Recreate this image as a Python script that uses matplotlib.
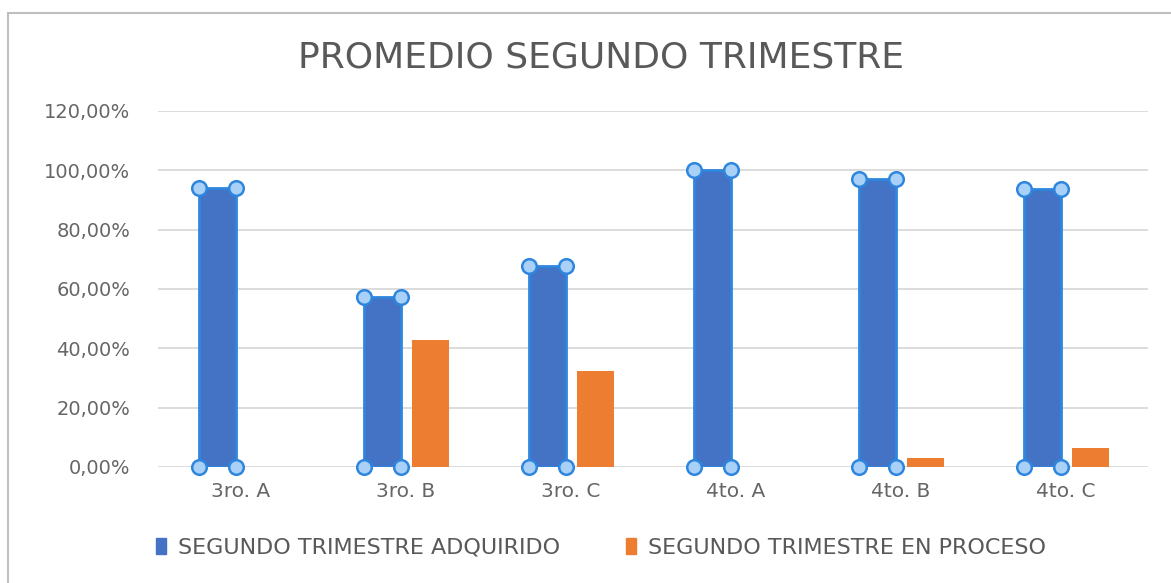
import matplotlib
matplotlib.use("Agg")
import matplotlib.pyplot as plt
import matplotlib.patches as mpatches
from matplotlib.ticker import FuncFormatter, MultipleLocator
import numpy as np

categories = ["3ro. A", "3ro. B", "3ro. C", "4to. A", "4to. B", "4to. C"]
adquirido = [0.9412, 0.5714, 0.6765, 1.0, 0.9697, 0.9355]
en_proceso = [0.0, 0.4286, 0.3235, 0.0, 0.0303, 0.0645]
series_names = ["SEGUNDO TRIMESTRE ADQUIRIDO", "SEGUNDO TRIMESTRE EN PROCESO"]
title = "PROMEDIO SEGUNDO TRIMESTRE"

BLUE = "#4472C4"
ORANGE = "#ED7D31"
SEL_EDGE = "#2E86DE"
SEL_FILL = "#A9D1F7"
GRID = "#D9D9D9"
TXT = "#595959"
TICK = "#666666"

W, H = 1171, 583
fig = plt.figure(figsize=(W / 100, H / 100), dpi=100)
fig.patch.set_facecolor("white")

# chart frame (top/left visible)
fig.add_artist(mpatches.Rectangle((8 / W, -0.05), 1.2, 1 - 13 / H + 0.05,
                                  transform=fig.transFigure, fill=False,
                                  edgecolor="#BFBFBF", linewidth=1.5))

ax = fig.add_axes([158 / W, 1 - 467 / H, (1148 - 158) / W, (467 - 111) / H])
x = np.arange(len(categories))
bw = 0.225
off_b = 0.14
off_o = 0.152

ax.bar(x - off_b, adquirido, bw, color=BLUE, edgecolor=SEL_EDGE, linewidth=2, zorder=3)
ax.bar(x + off_o, en_proceso, bw, color=ORANGE, edgecolor="none", zorder=3)

# selection handles at the corners of the blue bars
hx, hy = [], []
for xi, v in zip(x, adquirido):
    for dx in (-bw / 2, bw / 2):
        for yy in (0, v):
            hx.append(xi - off_b + dx)
            hy.append(yy)
ax.scatter(hx, hy, s=110, marker="o", facecolor=SEL_FILL, edgecolor=SEL_EDGE,
           linewidth=1.8, zorder=5, clip_on=False)

ax.set_xlim(-0.5, len(categories) - 0.5)
ax.set_ylim(0, 1.2)
ax.yaxis.set_major_locator(MultipleLocator(0.2))
ax.yaxis.set_major_formatter(FuncFormatter(lambda v, p: f"{v*100:.2f}%".replace(".", ",")))
ax.grid(axis="y", color=GRID, linewidth=1.3, zorder=0)
ax.set_axisbelow(True)
for s in ax.spines.values():
    s.set_visible(False)
ax.tick_params(axis="both", length=0, colors=TICK)
ax.tick_params(axis="y", pad=20, labelsize=14)
ax.tick_params(axis="x", pad=11, labelsize=14.5)
ax.set_xticks(x)
ax.set_xticklabels(categories)

fig.text(601.5 / W, 1 - 57 / H, title, ha="center", va="center",
         fontsize=26, color=TXT, family=["DejaVu Sans"])

handles = [mpatches.Patch(color=BLUE), mpatches.Patch(color=ORANGE)]
leg = fig.legend(handles, series_names, loc="center", bbox_to_anchor=(601 / W, 1 - 548 / H),
                 ncol=2, frameon=False, handlelength=0.45, handleheight=0.7,
                 handletextpad=0.5, columnspacing=3.0,
                 prop={"family": ["DejaVu Sans"], "size": 16})
for t in leg.get_texts():
    t.set_color(TXT)

fig.savefig("out.png", dpi=100)
